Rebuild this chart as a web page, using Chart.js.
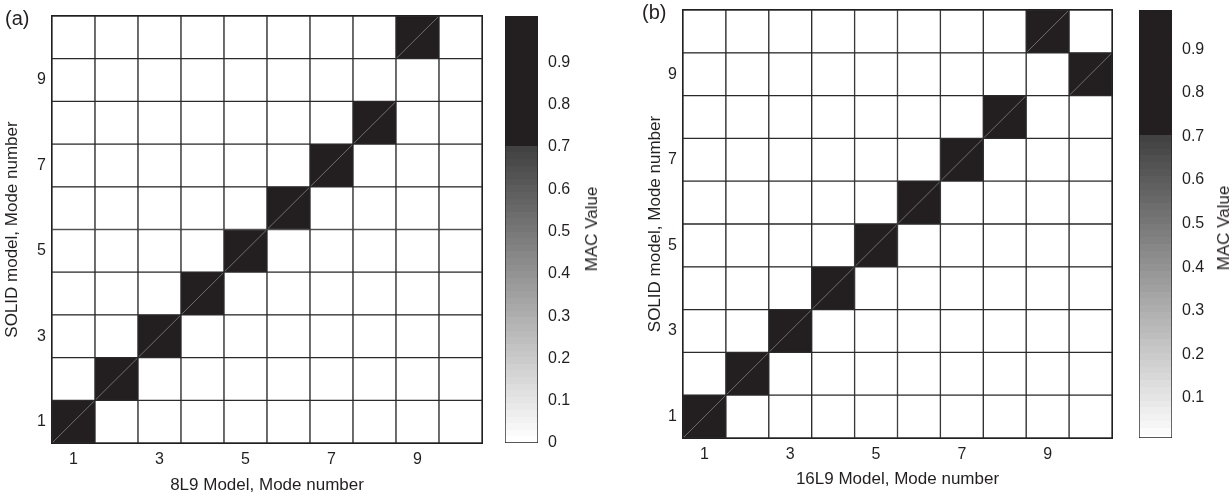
<!DOCTYPE html>
<html lang="en">
<head>
<meta charset="UTF-8">
<title>MAC matrices</title>
<style>
  body { margin: 0; background: #fff; font-family: "Liberation Sans", Arial, sans-serif; color: #231f20; }
  #page { position: relative; width: 1232px; height: 493px; overflow: hidden; }
  canvas { position: absolute; top: 0; }
  .tag { position: absolute; font-size: 20px; }
  .cbt { position: absolute; font-size: 17px; white-space: nowrap; transform: translate(-50%, -50%) rotate(-90deg); }
</style>
<script src="https://cdn.jsdelivr.net/npm/chart.js"></script>
</head>
<body>
<div id="page">
  <canvas id="heatA" width="500" height="496" style="left:0"></canvas>
  <canvas id="barA" width="100" height="493" style="left:500px"></canvas>
  <canvas id="heatB" width="500" height="493" style="left:630px"></canvas>
  <canvas id="barB" width="102" height="493" style="left:1130px"></canvas>
  <div class="tag" style="left:5px; top:7px">(a)</div>
  <div class="tag" style="left:642px; top:1px">(b)</div>
  <div class="cbt" style="left:592px; top:229px">MAC Value</div>
  <div class="cbt" style="left:1224px; top:228px">MAC Value</div>
</div>
<script>
// mode numbers of the compared model (columns) and SOLID model (rows, bottom to top)
const MODES = ['1', '2', '3', '4', '5', '6', '7', '8', '9', '10'];
const X_TICKS = ['1', '3', '5', '7', '9'];
const Y_TICKS = [1, 3, 5, 7, 9];

// MAC values, one array per SOLID mode (row 1 first), columns = beam model mode 1..10
const MAC_8L9 = [
  [0.99, 0, 0, 0, 0, 0, 0, 0, 0, 0],
  [0, 0.99, 0, 0, 0, 0, 0, 0, 0, 0],
  [0, 0, 0.99, 0, 0, 0, 0, 0, 0, 0],
  [0, 0, 0, 0.99, 0, 0, 0, 0, 0, 0],
  [0, 0, 0, 0, 0.99, 0, 0, 0, 0, 0],
  [0, 0, 0, 0, 0, 0.99, 0, 0, 0, 0],
  [0, 0, 0, 0, 0, 0, 0.99, 0, 0, 0],
  [0, 0, 0, 0, 0, 0, 0, 0.98, 0, 0],
  [0, 0, 0, 0, 0, 0, 0, 0, 0, 0],
  [0, 0, 0, 0, 0, 0, 0, 0, 0.99, 0]
];
const MAC_16L9 = [
  [0.99, 0, 0, 0, 0, 0, 0, 0, 0, 0],
  [0, 0.99, 0, 0, 0, 0, 0, 0, 0, 0],
  [0, 0, 0.99, 0, 0, 0, 0, 0, 0, 0],
  [0, 0, 0, 0.99, 0, 0, 0, 0, 0, 0],
  [0, 0, 0, 0, 0.99, 0, 0, 0, 0, 0],
  [0, 0, 0, 0, 0, 0.99, 0, 0, 0, 0],
  [0, 0, 0, 0, 0, 0, 0.99, 0, 0, 0],
  [0, 0, 0, 0, 0, 0, 0, 0.99, 0, 0],
  [0, 0, 0, 0, 0, 0, 0, 0, 0, 0.69],
  [0, 0, 0, 0, 0, 0, 0, 0, 0.99, 0]
];

// colour bar limits and tick values
const CB_A_RANGE = [0, 1.01];
const CB_A_TICKS = [0, 0.1, 0.2, 0.3, 0.4, 0.5, 0.6, 0.7, 0.8, 0.9];
const CB_B_RANGE = [0.008, 0.99];
const CB_B_TICKS = [0.1, 0.2, 0.3, 0.4, 0.5, 0.6, 0.7, 0.8, 0.9];

const INK = '#231f20';
const FONT = 'Liberation Sans, Arial, sans-serif';

// grey ramp white -> dark grey, then flat near-black above ~0.69
function macColor(v) {
  if (v >= 0.69) return INK;
  const step = Math.floor(v * 64) / 64;
  const g = Math.round(255 - step / 0.69 * 190);
  return `rgb(${g},${g},${g})`;
}

// no extra edge padding for labels, the plot box is placed by hand
function noEdgePad(s) {
  s.paddingTop = 0; s.paddingBottom = 0; s.paddingLeft = 0; s.paddingRight = 0;
}

// thin diagonal in the dark cells + outer frame
const cellPlugin = {
  id: 'cells',
  afterDatasetsDraw(chart) {
    const c = chart.ctx;
    chart.data.datasets.forEach((ds, di) => {
      chart.getDatasetMeta(di).data.forEach((bar, i) => {
        if (ds.mac[i] < 0.6) return;
        const p = bar.getProps(['x', 'y', 'base', 'width'], true);
        c.save();
        c.strokeStyle = 'rgba(140,140,140,0.9)';
        c.lineWidth = 0.8;
        c.beginPath();
        c.moveTo(p.x - p.width / 2 + 1, p.base - 1);
        c.lineTo(p.x + p.width / 2 - 1, p.y + 1);
        c.stroke();
        c.restore();
      });
    });
    const a = chart.chartArea;
    c.save();
    c.strokeStyle = INK;
    c.lineWidth = 1;
    c.strokeRect(a.left - 0.5, a.top - 0.5, a.right - a.left + 1, a.bottom - a.top + 1);
    c.restore();
  }
};

function heatmap(id, mac, xTitle, pad, yWidth, xHeight, xTitlePad, yTitlePad) {
  new Chart(document.getElementById(id), {
    type: 'bar',
    data: {
      labels: MODES,
      datasets: mac.map((row, j) => ({
        label: 'SOLID ' + (j + 1),
        data: MODES.map(() => 1),
        mac: row,
        backgroundColor: row.map(macColor),
        borderColor: '#2b2b2b',
        borderWidth: 1,
        borderSkipped: false,
        barPercentage: 1,
        categoryPercentage: 1
      }))
    },
    options: {
      responsive: false,
      animation: false,
      layout: { padding: pad },
      plugins: { legend: { display: false }, tooltip: { enabled: false } },
      scales: {
        x: {
          stacked: true,
          grid: { display: false, drawTicks: false, tickLength: 0 },
          border: { display: false },
          afterFit: s => { s.height = xHeight; noEdgePad(s); },
          ticks: {
            autoSkip: false, maxRotation: 0, padding: 7, color: INK,
            font: { family: FONT, size: 16 },
            callback: (v, i) => X_TICKS.includes(MODES[i]) ? MODES[i] : ''
          },
          title: { display: true, text: xTitle, color: INK, font: { family: FONT, size: 17 }, padding: xTitlePad }
        },
        y: {
          stacked: true, min: 0, max: MODES.length,
          grid: { display: false, drawTicks: false, tickLength: 0 },
          border: { display: false },
          afterFit: s => { s.width = yWidth; noEdgePad(s); },
          afterBuildTicks: s => { s.ticks = Y_TICKS.map(v => ({ value: v - 0.5 })); },
          ticks: {
            padding: 6, color: INK, font: { family: FONT, size: 16 },
            callback: v => String(Math.round(v + 0.5))
          },
          title: { display: true, text: 'SOLID model, Mode number', color: INK, font: { family: FONT, size: 17 }, padding: yTitlePad }
        }
      }
    },
    plugins: [cellPlugin]
  });
}

function colorbar(id, range, ticks, pad, yWidth) {
  new Chart(document.getElementById(id), {
    type: 'bar',
    data: {
      labels: [''],
      datasets: [{
        data: [range],
        borderColor: INK,
        borderWidth: 1,
        borderSkipped: false,
        barPercentage: 1,
        categoryPercentage: 1,
        backgroundColor: ctx => {
          const ch = ctx.chart, ys = ch.scales.y;
          if (!ch.chartArea || !ys) return '#888';
          const y0 = ys.getPixelForValue(0), y1 = ys.getPixelForValue(1);
          const g = ch.ctx.createLinearGradient(0, y0, 0, y1);
          for (let k = 0; k < 64; k++) {
            const col = macColor(k / 64 + 0.001);
            g.addColorStop(k / 64, col);
            g.addColorStop(Math.min(1, (k + 1) / 64), col);
          }
          return g;
        }
      }]
    },
    options: {
      responsive: false,
      animation: false,
      layout: { padding: pad },
      plugins: { legend: { display: false }, tooltip: { enabled: false } },
      scales: {
        x: { display: false },
        y: {
          position: 'right', min: range[0], max: range[1],
          grid: { display: false, drawTicks: false, tickLength: 0 },
          border: { display: false },
          afterFit: s => { s.width = yWidth; noEdgePad(s); },
          afterBuildTicks: s => { s.ticks = ticks.map(v => ({ value: v })); },
          ticks: {
            padding: 10, color: INK, font: { family: FONT, size: 16 },
            callback: v => v === 0 ? '0' : v.toFixed(1)
          }
        }
      }
    }
  });
}

heatmap('heatA', MAC_8L9, '8L9 Model, Mode number', { left: 0, right: 18, top: 16, bottom: 0 }, 52, 53,
  { top: 2, bottom: 0 }, { top: 2, bottom: 0 });
heatmap('heatB', MAC_16L9, '16L9 Model, Mode number', { left: 0, right: 18, top: 10, bottom: 0 }, 53, 55,
  { top: 2, bottom: 3 }, { top: 15, bottom: 0 });
colorbar('barA', CB_A_RANGE, CB_A_TICKS, { left: 5, right: 0, top: 16, bottom: 50 }, 62);
colorbar('barB', CB_B_RANGE, CB_B_TICKS, { left: 9, right: 0, top: 10, bottom: 55 }, 60);
</script>
</body>
</html>
